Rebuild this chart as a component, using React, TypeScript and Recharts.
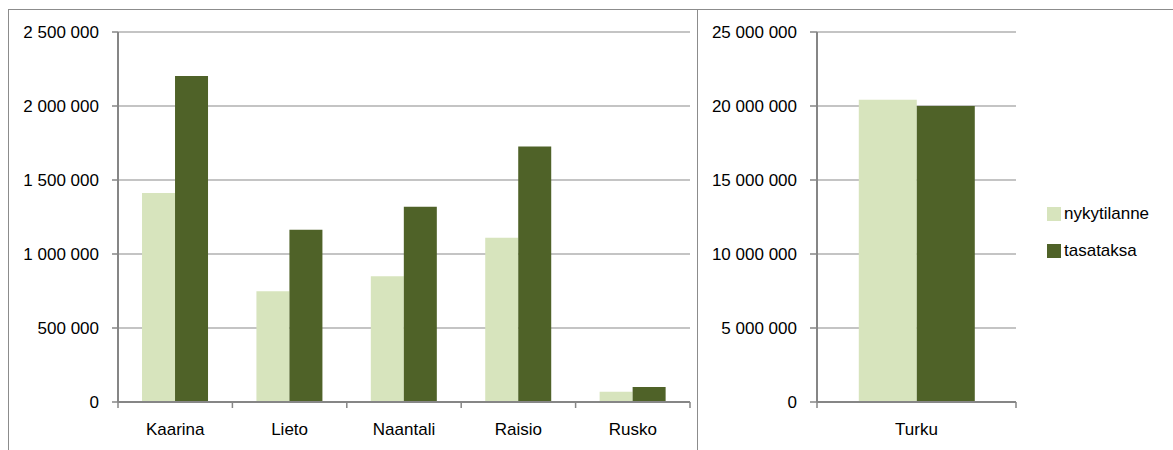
import { Bar, BarChart, CartesianGrid, XAxis, YAxis } from "recharts"

const municipalities = ["Kaarina", "Lieto", "Naantali", "Raisio", "Rusko"]
const currentCosts = [1413000, 748000, 850000, 1110000, 69000]
const flatRateCosts = [2203000, 1164000, 1319000, 1727000, 101000]
const leftTicks = [0, 500000, 1000000, 1500000, 2000000, 2500000]

const cityNames = ["Turku"]
const cityCurrent = [20420000]
const cityFlatRate = [20000000]
const rightTicks = [0, 5000000, 10000000, 15000000, 20000000, 25000000]

const seriesNames = ["nykytilanne", "tasataksa"]

const LIGHT = "#D7E4BD"
const DARK = "#4F6228"
const GRID = "#8a8a8a"
const AXIS = "#868686"
const FONT = "'Liberation Sans', Arial, sans-serif"
const TEXT_MARGIN = 21

const leftData = municipalities.map((name, i) => ({
    name,
    nykytilanne: currentCosts[i],
    tasataksa: flatRateCosts[i],
}))

const rightData = cityNames.map((name, i) => ({
    name,
    nykytilanne: cityCurrent[i],
    tasataksa: cityFlatRate[i],
}))

const formatNumber = (v: number) => String(v).replace(/\B(?=(\d{3})+(?!\d))/g, " ")

// category labels plus Excel-style tick marks on the category boundaries
function makeCategoryTick(band: number, count: number) {
    return (props: any) => {
        const { x, y, payload, index } = props
        const axisY = y - TEXT_MARGIN
        return (
            <g>
                <line x1={x - band / 2} x2={x - band / 2} y1={axisY} y2={axisY + 6} stroke={AXIS} strokeWidth={1.5} />
                {index === count - 1 && (
                    <line x1={x + band / 2} x2={x + band / 2} y1={axisY} y2={axisY + 6} stroke={AXIS} strokeWidth={1.5} />
                )}
                <text x={x} y={y} dy="0.71em" textAnchor="middle" fill="#000" fontSize={17} fontFamily={FONT}>
                    {payload.value}
                </text>
            </g>
        )
    }
}

interface PanelProps {
    data: { name: string; nykytilanne: number; tasataksa: number }[]
    ticks: number[]
    left: number
    width: number
    marginRight: number
    axisWidth: number
    tickSize: number
}

function Panel({ data, ticks, left, width, marginRight, axisWidth, tickSize }: PanelProps) {
    const plotWidth = width - marginRight - axisWidth
    const band = plotWidth / data.length
    return (
        <div style={{ position: "absolute", left, top: 0 }}>
            <BarChart
                width={width}
                height={450}
                data={data}
                margin={{ top: 32, right: marginRight, bottom: 8, left: 0 }}
                barCategoryGap="21%"
                barGap={0}
            >
                <CartesianGrid vertical={false} stroke={GRID} strokeWidth={1.2} />
                <XAxis
                    dataKey="name"
                    height={40}
                    tickSize={0}
                    tickMargin={TEXT_MARGIN}
                    tickLine={false}
                    axisLine={{ stroke: AXIS, strokeWidth: 2 }}
                    tick={makeCategoryTick(band, data.length)}
                    interval={0}
                />
                <YAxis
                    width={axisWidth}
                    domain={[0, ticks[ticks.length - 1]]}
                    ticks={ticks}
                    interval={0}
                    tickSize={tickSize}
                    tickMargin={13}
                    tickLine={{ stroke: AXIS, strokeWidth: 1.5 }}
                    axisLine={{ stroke: AXIS, strokeWidth: 2 }}
                    tickFormatter={formatNumber}
                    tick={{ fill: "#000", fontSize: 17, fontFamily: FONT }}
                />
                <Bar dataKey="nykytilanne" fill={LIGHT} isAnimationActive={false} />
                <Bar dataKey="tasataksa" fill={DARK} isAnimationActive={false} />
            </BarChart>
        </div>
    )
}

export default function App() {
    const legendColors = [LIGHT, DARK]
    return (
        <div style={{ position: "absolute", left: 0, top: 0, width: 1173, height: 450, overflow: "hidden", background: "#fff" }}>
            <div
                style={{
                    position: "absolute",
                    left: 8,
                    top: 9,
                    width: 690,
                    height: 480,
                    boxSizing: "border-box",
                    border: "1px solid #8c8c8c",
                }}
            />
            <div
                style={{
                    position: "absolute",
                    left: 697,
                    top: 9,
                    width: 476,
                    height: 1,
                    background: "#8c8c8c",
                }}
            />
            <Panel data={leftData} ticks={leftTicks} left={0} width={697} marginRight={7} axisWidth={118} tickSize={6} />
            <Panel data={rightData} ticks={rightTicks} left={697} width={476} marginRight={157} axisWidth={120} tickSize={7} />
            {seriesNames.map((name, i) => (
                <div
                    key={name}
                    style={{
                        position: "absolute",
                        left: 1047,
                        top: 205 + i * 37,
                        height: 17,
                        display: "flex",
                        alignItems: "center",
                        fontFamily: FONT,
                        fontSize: 17,
                        color: "#000",
                    }}
                >
                    <span style={{ display: "inline-block", width: 14, height: 14, background: legendColors[i], marginRight: 3 }} />
                    {name}
                </div>
            ))}
        </div>
    )
}
